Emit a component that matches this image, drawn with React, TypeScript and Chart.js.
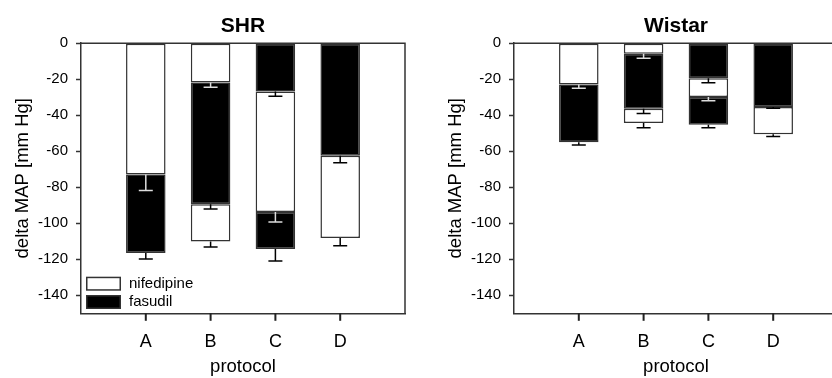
import React, { useEffect, useRef } from 'react';
import { Chart, registerables } from 'chart.js';

Chart.register(...registerables);

// ---- data ----
const protocols = ['A', 'B', 'C', 'D'];
const legendLabels = ['nifedipine', 'fasudil'];
const yAxisTitle = 'delta MAP [mm Hg]';
const xAxisTitle = 'protocol';

// SHR: change in MAP for each successive drug step (mm Hg)
const shrStep1 = [-72.9, -21.8, -26.8, -62.5];
const shrStep2 = [-43.6, -67.7, -67.0, -45.7];
const shrStep3 = [null, -20.6, -20.5, null];
const shrDrug1 = ['nifedipine', 'nifedipine', 'fasudil', 'fasudil'];
const shrDrug2 = ['fasudil', 'fasudil', 'nifedipine', 'nifedipine'];
const shrDrug3 = [null, 'nifedipine', 'fasudil', null];
const shrErr1 = [8.9, 2.6, 2.6, 3.9];
const shrErr2 = [3.4, 2.6, 5.5, 4.3];
const shrErr3 = [null, 3.1, 6.7, null];

// Wistar
const wisStep1 = [-23.0, -5.9, -19.5, -35.4];
const wisStep2 = [-32.0, -30.5, -10.4, -15.1];
const wisStep3 = [null, -7.9, -15.4, null];
const wisDrug1 = ['nifedipine', 'nifedipine', 'fasudil', 'fasudil'];
const wisDrug2 = ['fasudil', 'fasudil', 'nifedipine', 'nifedipine'];
const wisDrug3 = [null, 'nifedipine', 'fasudil', null];
const wisErr1 = [2.0, 2.4, 2.4, 0.7];
const wisErr2 = [1.6, 2.6, 2.1, 1.3];
const wisErr3 = [null, 2.7, 1.7, null];

// ---- styling ----
const FONT = 'Arial, "Liberation Sans", Helvetica, sans-serif';
const drugColor: Record<string, string> = { nifedipine: '#ffffff', fasudil: '#000000' };
const AXIS = '#333333';

type Panel = {
  title: string;
  steps: (number | null)[][];
  drugs: (string | null)[][];
  errs: (number | null)[][];
  legend: boolean;
};

const panels: Panel[] = [
  { title: 'SHR', steps: [shrStep1, shrStep2, shrStep3], drugs: [shrDrug1, shrDrug2, shrDrug3], errs: [shrErr1, shrErr2, shrErr3], legend: true },
  { title: 'Wistar', steps: [wisStep1, wisStep2, wisStep3], drugs: [wisDrug1, wisDrug2, wisDrug3], errs: [wisErr1, wisErr2, wisErr3], legend: false },
];

function makeChart(canvas: HTMLCanvasElement, p: Panel) {
  const datasets = p.steps.map((s, k) => ({
    label: `step ${k + 1}`,
    data: s.map((v, j) => ({ x: j + 1, y: v })),
    backgroundColor: p.drugs[k].map((d) => (d ? drugColor[d] : 'rgba(0,0,0,0)')),
    borderColor: AXIS,
    borderWidth: 1.5,
    borderSkipped: false,
    barPercentage: 0.61,
    categoryPercentage: 1,
  }));

  const panelPlugin = {
    id: 'panelExtras',
    afterDraw(chart: any) {
      const { ctx, chartArea } = chart;
      const y = chart.scales.y;
      const xs = chart.scales.x;
      ctx.save();
      // error bars (SEM), drawn outward from each step's end
      p.steps.forEach((s, k) => {
        s.forEach((v, j) => {
          if (v == null) return;
          let total = 0;
          for (let q = 0; q <= k; q++) total += (p.steps[q][j] as number) || 0;
          const e = p.errs[k][j] as number;
          const px = xs.getPixelForValue(j + 1);
          const y1 = y.getPixelForValue(total);
          const y2 = y.getPixelForValue(total - e);
          const next = p.drugs[k + 1] ? p.drugs[k + 1][j] : null;
          ctx.strokeStyle = next === 'fasudil' ? '#dddddd' : '#000000';
          ctx.lineWidth = 1.5;
          ctx.beginPath();
          ctx.moveTo(px, y1);
          ctx.lineTo(px, y2);
          ctx.moveTo(px - 7, y2);
          ctx.lineTo(px + 7, y2);
          ctx.stroke();
        });
      });
      // frame top + right
      ctx.strokeStyle = AXIS;
      ctx.lineWidth = 1.5;
      ctx.beginPath();
      ctx.moveTo(chartArea.left, chartArea.top);
      ctx.lineTo(chartArea.right, chartArea.top);
      ctx.lineTo(chartArea.right, chartArea.bottom);
      ctx.stroke();
      // category tick marks below the x axis
      protocols.forEach((_, j) => {
        const px = xs.getPixelForValue(j + 1);
        ctx.fillStyle = '#222222';
        ctx.fillRect(px - 1, chartArea.bottom, 2, 7.5);
      });
      // legend inside the plot, lower left
      if (p.legend) {
        const bx = chartArea.left + 5;
        const bw = 35;
        const bh = 14;
        const tops = [chartArea.bottom - 36.6, chartArea.bottom - 18.3];
        legendLabels.forEach((lab, i) => {
          ctx.fillStyle = drugColor[lab];
          ctx.fillRect(bx, tops[i], bw, bh);
          ctx.strokeStyle = AXIS;
          ctx.lineWidth = 1.5;
          ctx.strokeRect(bx + 0.75, tops[i] + 0.75, bw - 1.5, bh - 1.5);
          ctx.fillStyle = '#000';
          ctx.font = `15px ${FONT}`;
          ctx.textAlign = 'left';
          ctx.textBaseline = 'middle';
          ctx.fillText(lab, bx + bw + 8, tops[i] + bh / 2);
        });
      }
      ctx.restore();
    },
  };

  return new Chart(canvas, {
    type: 'bar',
    data: { datasets: datasets as any },
    plugins: [panelPlugin],
    options: {
      responsive: false,
      animation: false,
      devicePixelRatio: 1,
      layout: { padding: { left: 0, right: 10, top: 0, bottom: 0 } },
      plugins: {
        legend: { display: false },
        tooltip: { enabled: false },
        title: {
          display: true,
          text: p.title,
          fullSize: false,
          color: '#000',
          font: { family: FONT, size: 21, weight: 'bold' },
          padding: { top: 14, bottom: 4 },
        },
      },
      scales: {
        x: {
          type: 'linear',
          stacked: true,
          offset: false,
          min: 0,
          max: protocols.length + 1,
          grid: {
            offset: false,
            drawOnChartArea: false,
            drawTicks: true,
            tickLength: 7,
            tickWidth: 0,
            tickColor: 'rgba(0,0,0,0)',
          },
          border: { display: true, color: AXIS, width: 1.5 },
          ticks: {
            stepSize: 1,
            color: '#000',
            font: { family: FONT, size: 18 },
            padding: 11,
            autoSkip: false,
            maxRotation: 0,
            callback: (v: any) => protocols[Number(v) - 1] ?? '',
          },
          title: {
            display: true,
            text: xAxisTitle,
            color: '#000',
            font: { family: FONT, size: 18.5 },
            padding: { top: 0, bottom: 0 },
          },
          afterFit: (s: any) => {
            s.height = 64.7;
          },
        },
        y: {
          stacked: true,
          min: -150,
          max: 0,
          ticks: {
            stepSize: 20,
            includeBounds: false,
            color: '#000',
            font: { family: FONT, size: 15 },
            padding: 8,
          },
          grid: {
            drawOnChartArea: false,
            drawTicks: true,
            tickLength: 5,
            tickWidth: 1.5,
            tickColor: AXIS,
          },
          border: { display: true, color: AXIS, width: 1.5 },
          title: {
            display: true,
            text: yAxisTitle,
            color: '#000',
            font: { family: FONT, size: 18.5 },
            padding: { top: 12, bottom: 0 },
          },
          afterFit: (s: any) => {
            s.width = 81;
          },
        },
      },
    } as any,
  });
}

function ChartPanel({ panel, left }: { panel: Panel; left: number }) {
  const ref = useRef<HTMLCanvasElement | null>(null);
  useEffect(() => {
    if (!ref.current) return;
    const chart = makeChart(ref.current, panel);
    return () => chart.destroy();
  }, [panel]);
  return (
    <canvas
      ref={ref}
      width={416}
      height={378}
      style={{ position: 'absolute', left, top: 0, width: 416, height: 378 }}
    />
  );
}

export default function App() {
  return (
    <div style={{ position: 'fixed', left: 0, top: 0, width: 832, height: 378, overflow: 'hidden', background: '#fff' }}>
      <ChartPanel panel={panels[0]} left={0} />
      <ChartPanel panel={panels[1]} left={433.3} />
    </div>
  );
}
